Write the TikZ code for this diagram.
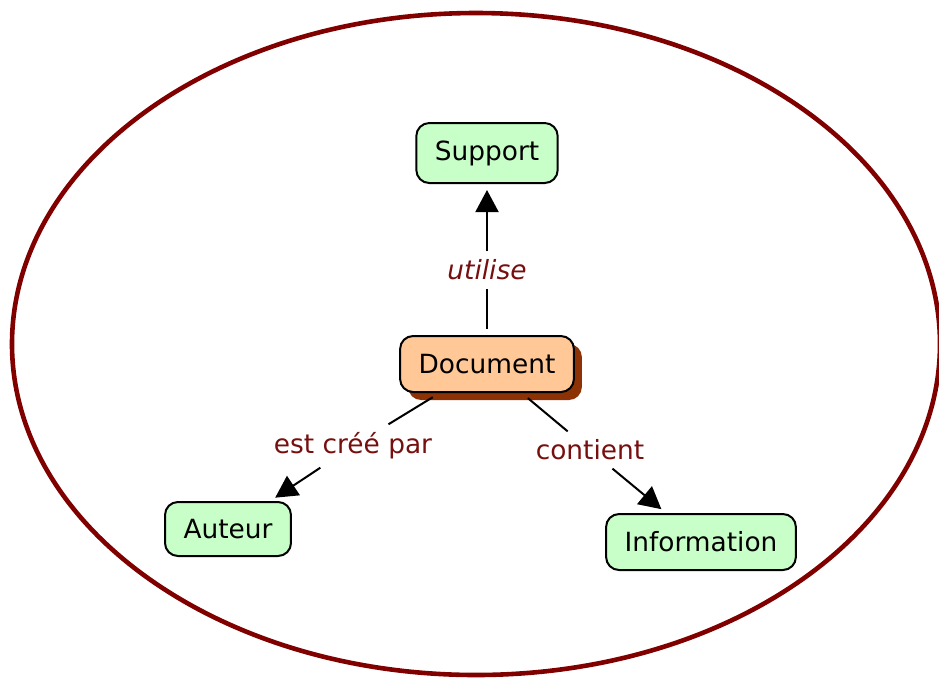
\documentclass[tikz,border=0pt]{standalone}
\usepackage{fontspec}
\setmainfont{DejaVu Sans}
\usepackage{tikz}
\usetikzlibrary{arrows.meta,shadows}
\definecolor{bordeaux}{RGB}{128,0,0}
\definecolor{lienrouge}{RGB}{120,15,15}
\definecolor{vertpale}{RGB}{200,255,200}
\definecolor{peche}{RGB}{255,200,150}
\definecolor{rouille}{RGB}{140,50,5}
\newcommand{\txt}{\fontsize{13.2}{16}\selectfont}

\begin{document}
\begin{tikzpicture}[x=0.5pt,y=-0.5pt,
    concept/.style={draw=black,line width=1pt,rounded corners=6.5pt,fill=vertpale,
      inner xsep=9.25pt,minimum height=28pt,font=\txt},
    lien/.style={text=lienrouge,fill=white,inner xsep=2pt,inner ysep=4pt,font=\txt},
    fleche/.style={line width=1pt,-{Triangle[length=11pt,width=11.5pt]},shorten >=3pt}]
       \useasboundingbox (0,0) rectangle (939,677);
       \draw[bordeaux,line width=2.3pt] (476,344) ellipse [x radius=232pt, y radius=165.5pt];
       % concepts
       \node[concept,fill=peche,
         drop shadow={shadow xshift=4pt,shadow yshift=-4pt,fill=rouille,opacity=1}]
         (doc) at (487,364) {Document};
       \node[concept,minimum height=30pt] (sup) at (487,153) {Support};
       \node[concept,minimum height=27pt] (aut) at (228,529) {Auteur};
       \node[concept] (info) at (701,542) {Information};
       % phrases de liaison
       \node[lien,font=\txt\itshape] (util) at (487,270) {utilise};
       \node[lien] (cree) at (353,446) {est créé par};
       \node[lien] (cont) at (590,450) {contient};
       % liens
       \draw[line width=1pt,shorten <=3pt] (doc) -- (util);
       \draw[fleche] (util) -- (sup);
       \draw[line width=1pt,shorten <=4pt] (doc) -- (cree);
       \draw[fleche] (cree) -- (aut);
       \draw[line width=1pt,shorten <=4pt] (doc) -- (cont);
       \draw[fleche] (cont) -- (info);
\end{tikzpicture}
\end{document}
